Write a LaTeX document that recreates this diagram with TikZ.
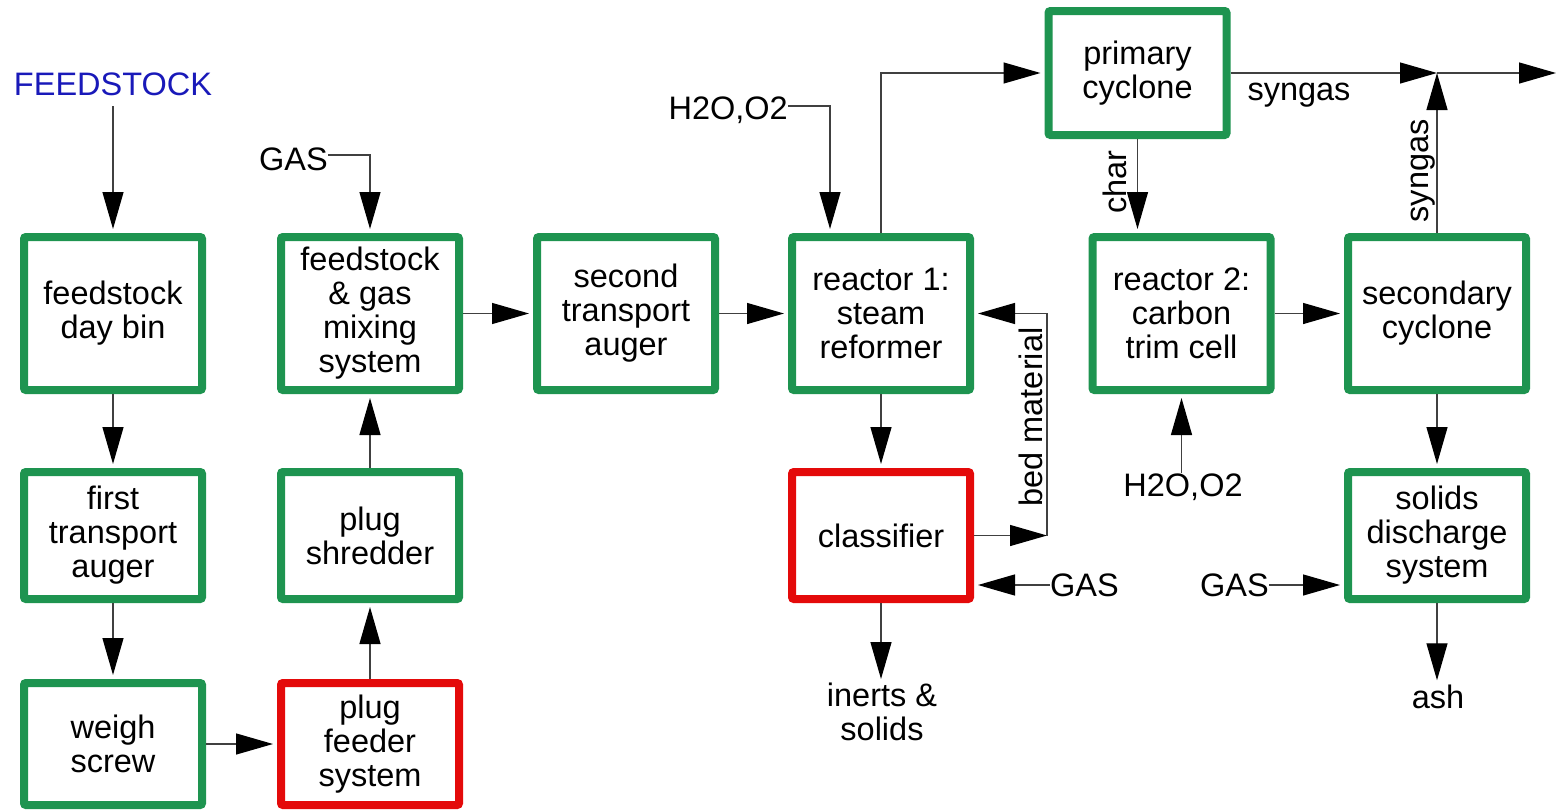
\documentclass[tikz,border=0pt]{standalone}
\usepackage{fontspec}
\setmainfont{Liberation Sans}
\usetikzlibrary{arrows.meta}
\definecolor{boxgreen}{RGB}{30,148,80}
\definecolor{boxred}{RGB}{228,10,10}
\definecolor{feedblue}{RGB}{25,25,185}
\newcommand\dfs{\fontsize{32.5}{34}\selectfont}
\begin{document}
\begin{tikzpicture}[x=1pt,y=-1pt,
  box/.style={draw=boxgreen, line width=8pt, rounded corners=2pt, minimum width=178pt,
    minimum height=153pt, inner sep=0pt, align=center, font=\dfs},
  sbox/.style={box, minimum height=127pt},
  redbox/.style={draw=boxred},
  lbl/.style={inner sep=0pt, font=\dfs, align=center},
  flow/.style={line width=1.3pt, draw=black!75,
    -{Triangle[length=37pt,width=21pt,color=black]}, shorten >=4pt},
  free/.style={shorten >=0pt}]
\useasboundingbox (0,0) rectangle (1556,811);
% boxes
\node[box] (daybin) at (113,313.5) {feedstock\\day bin};
\node[box] (mix) at (370,313.5) {feedstock\\\& gas\\mixing\\system};
\node[box] (aug2) at (626,313.5) {second\\transport\\auger};
\node[box] (r1) at (881,313.5) {reactor 1:\\steam\\reformer};
\node[box] (r2) at (1181.5,313.5) {reactor 2:\\carbon\\trim cell};
\node[box] (sc) at (1437,313.5) {secondary\\cyclone};
\node[sbox] (aug1) at (113,535.5) {first\\transport\\auger};
\node[sbox] (shred) at (370,535.5) {plug\\shredder};
\node[sbox, redbox] (cls) at (881,535.5) {classifier};
\node[sbox] (sol) at (1437,535.5) {solids\\discharge\\system};
\node[sbox, minimum height=122pt] (weigh) at (113,744) {weigh\\screw};
\node[sbox, minimum height=122pt, redbox] (pf) at (370,744) {plug\\feeder\\system};
\node[box, minimum height=124pt] (pc) at (1137.5,73) {primary\\cyclone};
% labels
\node[lbl, text=feedblue] (feed) at (113,84.5) {FEEDSTOCK};
\node[lbl, anchor=east] (gas1) at (328,159) {GAS};
\node[lbl, anchor=east] (h1) at (788,110) {H2O,O2};
\node[lbl, anchor=base] (sg1) at (1299,100) {syngas};
\node[lbl, anchor=base, rotate=90] (char) at (1126,182) {char};
\node[lbl, anchor=base, rotate=90] (sg2) at (1428,171) {syngas};
\node[lbl, anchor=base, rotate=90] (bed) at (1042,417) {bed material};
\node[lbl, anchor=west] (gas2) at (1050,585) {GAS};
\node[lbl, anchor=east] (gas3) at (1269,585) {GAS};
\node[lbl] (h2) at (1183,487) {H2O,O2};
\node[lbl, anchor=base] (ash) at (1438,708) {ash};
\node[lbl, anchor=north] (inerts) at (882,683) {inerts \&\\solids};
% coordinates
\coordinate (j) at (1437,73);
\coordinate (out) at (1556,73);
\coordinate (bm) at (1047,535.5);
% connectors
\draw[flow] ([yshift=-10pt]feed.south) -- (daybin.north);
\draw[flow] (daybin.south) -- (aug1.north);
\draw[flow] (aug1.south) -- (weigh.north);
\draw[flow] (weigh.east) -- (pf.west);
\draw[flow] (pf.north) -- (shred.south);
\draw[flow] (shred.north) -- (mix.south);
\draw[flow] ([yshift=4pt]gas1.east) -| (mix.north);
\draw[flow] (mix.east) -- (aug2.west);
\draw[flow] (aug2.east) -- (r1.west);
\draw[flow] ([yshift=4pt]h1.east) -| ([xshift=-51pt]r1.north);
\draw[flow] (r1.north) |- (pc.west);
\draw[flow, free] (pc.east) -- (j);
\draw[flow, free] (j) -- (out);
\draw[flow] (pc.south) -- (pc.south |- r2.north);
\draw[flow] (r2.east) -- (sc.west);
\draw[flow, free] (sc.north) -- (j);
\draw[flow] (sc.south) -- (sol.north);
\draw[flow] (sol.south) -- (sol.south |- ash.north);
\draw[flow] (gas3.east) -- (sol.west |- gas3.east);
\draw[flow] (h2.north -| r2.south) -- (r2.south);
\draw[flow] (r1.south) -- (cls.north);
\draw[flow] (cls.south) -- (cls.south |- inerts.north);
\draw[flow, free] (cls.east) -- (bm);
\draw[flow] (bm) |- (r1.east);
\draw[flow] (gas2.west) -- (cls.east |- gas2.west);
\end{tikzpicture}
\end{document}
